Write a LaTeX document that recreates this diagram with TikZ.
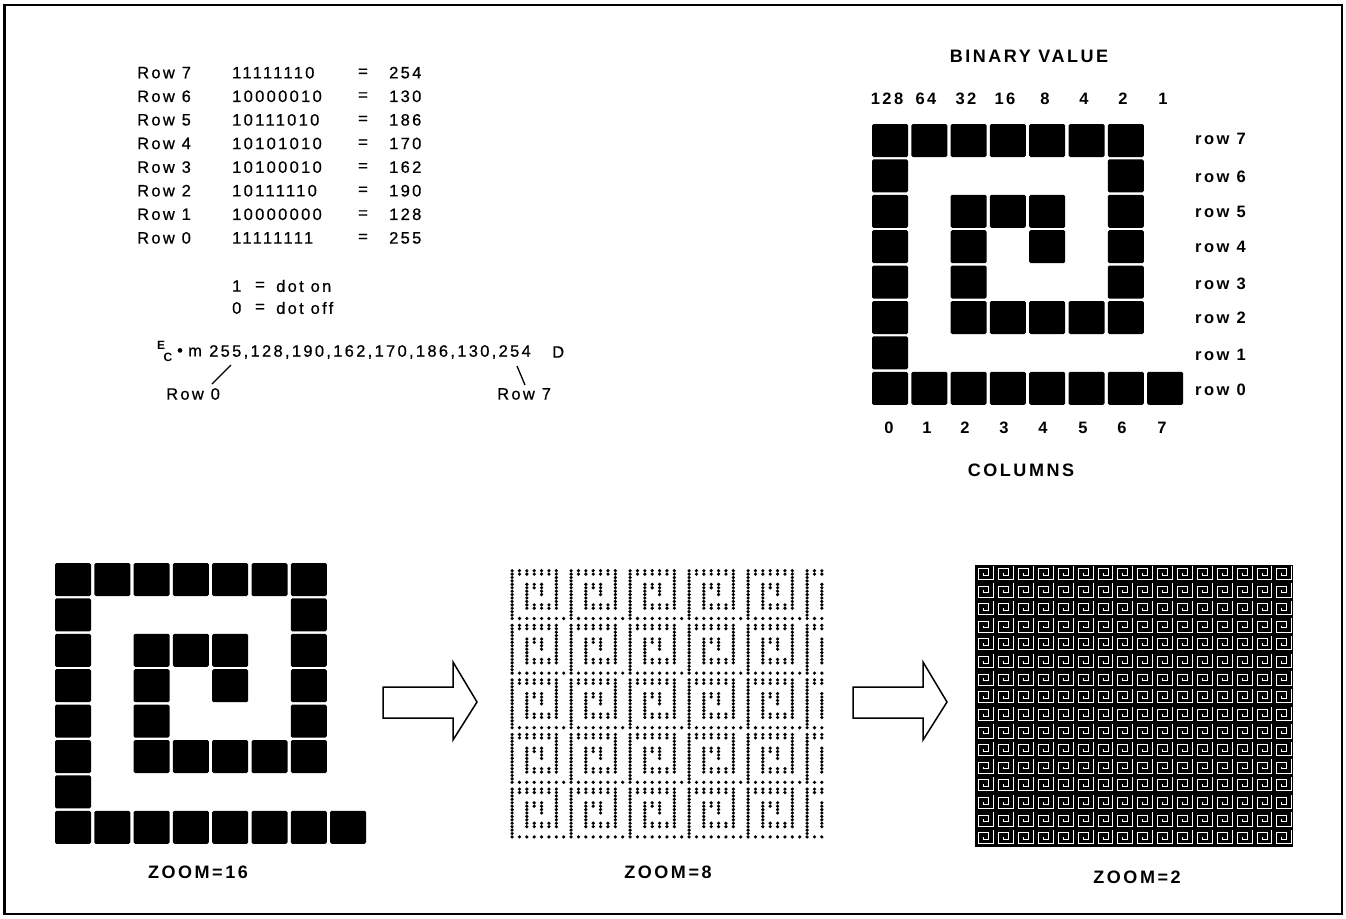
\documentclass[tikz,border=0pt]{standalone}
\usepackage{fontspec}
\setmainfont{Liberation Sans}
\newfontfamily\rfont[LetterSpace=14,FakeBold=0.6]{Liberation Sans}
\newfontfamily\lblfont[LetterSpace=15]{Liberation Sans}
\newfontfamily\capfont[LetterSpace=14]{Liberation Sans}
\tikzset{
  txt/.style={font=\rfont\fontsize{16.5}{19}\selectfont, inner sep=0pt, anchor=west},
  esctxt/.style={font=\bfseries\fontsize{12}{12}\selectfont, inner sep=0pt},
  lbl/.style={font=\lblfont\bfseries\fontsize{16.5}{19}\selectfont, inner sep=0pt},
  captxt/.style={font=\capfont\bfseries\fontsize{18}{21}\selectfont, inner sep=0pt},
  blk/.style={fill=black, rounded corners=1.5pt},
  lead/.style={line width=1.3pt},
  bigarrow/.style={draw=black, line width=1.5pt, fill=white, line join=miter},
  frameline/.style={line width=2.2pt},
  gap/.style={draw=white, line width=0.8pt, line join=miter}
}
\def\patternlist{7/{0,1,2,3,4,5,6},6/{0,6},5/{0,2,3,4,6},4/{0,2,4,6},3/{0,2,6},2/{0,2,3,4,5,6},1/{0},0/{0,1,2,3,4,5,6,7}}
\begin{document}
\begin{tikzpicture}[x=1pt,y=-1pt]
\useasboundingbox (0,0) rectangle (1346,918);
\draw[frameline] (4.5,5) rectangle (1342,914);

% ---- table of rows ----
\foreach \r/\b/\v [count=\i from 0] in {7/11111110/254,6/10000010/130,5/10111010/186,4/10101010/170,3/10100010/162,2/10111110/190,1/10000000/128,0/11111111/255}{
  \node[txt] (rl\r) at (137,{72.7+\i*23.6}) {Row \r};
  \node[txt] (rb\r) at (232,{72.7+\i*23.6}) {\b};
  \node[txt,anchor=center] (re\r) at (363,{72.7+\i*23.6}) {=};
  \node[txt] (rv\r) at (389,{72.7+\i*23.6}) {\v};
}
\node[txt] (one) at (232,286) {1};
\node[txt,anchor=center] (oneeq) at (260,286) {=};
\node[txt] (dotOn) at (276,286) {dot on};
\node[txt] (zero) at (232,308) {0};
\node[txt,anchor=center] (zeroeq) at (260,308) {=};
\node[txt] (dotOff) at (276,308) {dot off};

% ---- escape sequence ----
\node[esctxt] (escE) at (161,345) {E};
\node[esctxt] (escC) at (168,357.5) {C};
\node[txt,anchor=center] (bul) at (180,352) {\textbullet};
\node[txt] (mm) at (188,352) {m};
\node[txt] (seq) at (209,352) {255,128,190,162,170,186,130,254};
\node[txt] (dd) at (552,352) {D};
\node[txt] (lab0) at (166,394) {Row 0};
\node[txt] (lab7) at (497,394) {Row 7};
\coordinate (l0a) at (231,365);
\coordinate (l0b) at (212,384);
\coordinate (l7a) at (517,366);
\coordinate (l7b) at (525,385);
\draw[lead] (l0a) -- (l0b);
\draw[lead] (l7a) -- (l7b);

% ---- top-right grid ----
\node[captxt] (bv) at (1029,56) {BINARY VALUE};
\foreach \v/\x [count=\i] in {128/887,64/926,32/966,16/1005,8/1045,4/1084,2/1123,1/1163}
  \node[lbl] (bw\i) at (\x,99) {\v};
\foreach \r/\cs in \patternlist {
  \foreach \c in \cs {
    \fill[blk] ({872+\c*39.3},{124+(7-\r)*35.4}) rectangle ++(36,33);
  }
}
\foreach \r/\y in {7/139,6/177,5/212,4/247,3/284,2/318,1/355,0/390}
  \node[lbl,anchor=west] (rowl\r) at (1195,\y) {row \r};
\foreach \c/\x in {0/889,1/927,2/965,3/1004,4/1043,5/1083,6/1122,7/1162}
  \node[lbl] (cl\c) at (\x,428) {\c};
\node[captxt] (cols) at (1021,470) {COLUMNS};

% ---- ZOOM=16 ----
\foreach \r/\cs in \patternlist {
  \foreach \c in \cs {
    \fill[blk] ({55+\c*39.3},{563+(7-\r)*35.4}) rectangle ++(36,33);
  }
}
\node[captxt] (z16) at (198,872) {ZOOM=16};

% ---- arrows ----
\foreach \dx in {0,470}{
  \draw[bigarrow] ({383+\dx},687) -- ({453+\dx},687) -- ({453+\dx},662) -- ({477+\dx},702)
     -- ({453+\dx},740) -- ({453+\dx},718) -- ({383+\dx},718) -- cycle;
}

% ---- ZOOM=8 ----
\foreach \j in {0,...,4}{
  \foreach \k/\maxc in {0/7,1/7,2/7,3/7,4/7,5/2}{
    \foreach \r/\cs in \patternlist {
      \foreach \c in \cs {
        \ifnum\c>\maxc\else
          \fill ({512.1+\k*59+\c*7.37},{570.7+\j*54.6+(7-\r)*6.83}) circle (1.8);
          \ifnum\r>0
            \fill ({512.1+\k*59+\c*7.37},{574.1+\j*54.6+(7-\r)*6.83}) circle (1.8);
          \fi
        \fi
      }
    }
  }
}
\node[captxt] (z8) at (668,872) {ZOOM=8};

% ---- ZOOM=2 ----
\fill (975,565) rectangle (1293,847);
\foreach \i in {0,...,15}{
  \foreach \j in {0,...,15}{
    \begin{scope}[shift={({975+\i*19.875},{565+\j*17.625})}]
      \draw[gap] (8.69,7.71) -- (8.69,9.91) -- (13.66,9.91) -- (13.66,3.30) -- (3.73,3.30)
        -- (3.73,14.32) -- (18.63,14.32) -- (18.63,0.6);
    \end{scope}
  }
}
\node[captxt] (z2) at (1137,877) {ZOOM=2};
\end{tikzpicture}
\end{document}
